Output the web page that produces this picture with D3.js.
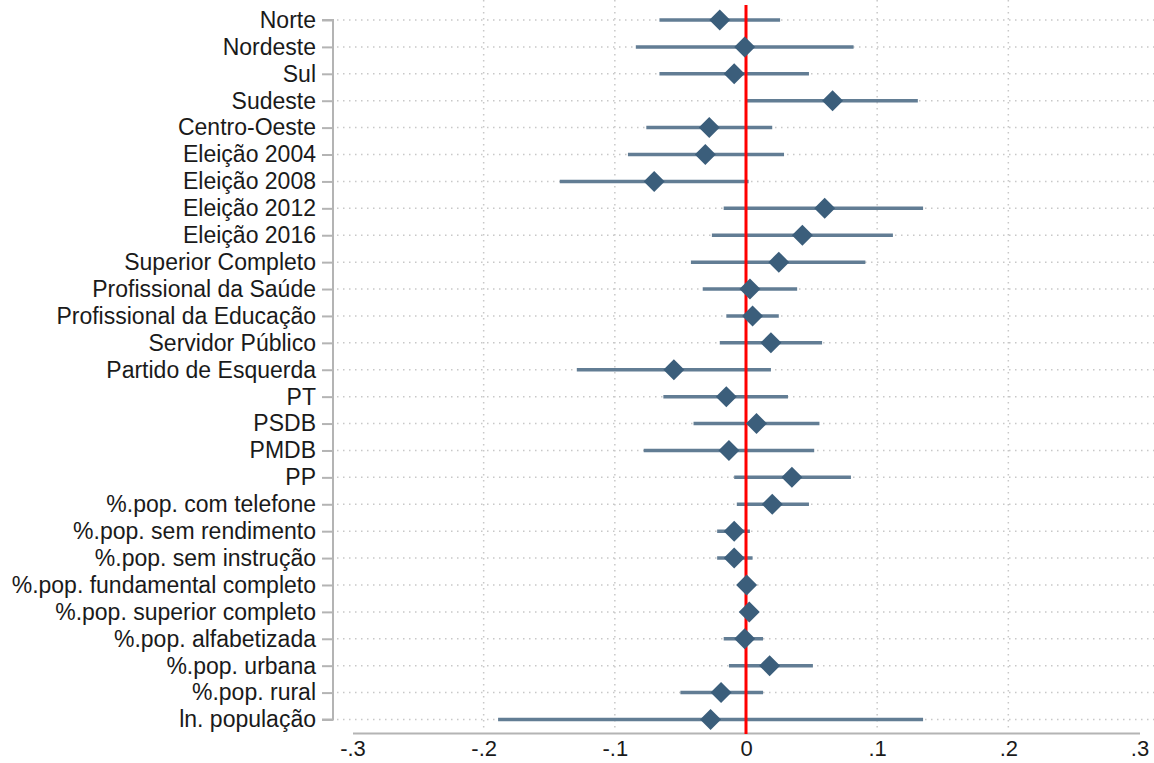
<!DOCTYPE html>
<html>
<head>
  <meta charset="utf-8">
  <title>Coeficientes</title>
  <script src="https://d3js.org/d3.v7.min.js"></script>
  <style>
    body { margin: 0; background: #fff; font-family: "Liberation Sans", Arial, sans-serif; }
    #chart { width: 1154px; height: 763px; }
  </style>
</head>
<body>
  <div id="chart"></div>
  <script>
    // Variables, top to bottom
    const labels = [
      "Norte", "Nordeste", "Sul", "Sudeste", "Centro-Oeste",
      "Eleição 2004", "Eleição 2008", "Eleição 2012", "Eleição 2016",
      "Superior Completo", "Profissional da Saúde", "Profissional da Educação",
      "Servidor Público", "Partido de Esquerda", "PT", "PSDB", "PMDB", "PP",
      "%.pop. com telefone", "%.pop. sem rendimento", "%.pop. sem instrução",
      "%.pop. fundamental completo", "%.pop. superior completo",
      "%.pop. alfabetizada", "%.pop. urbana", "%.pop. rural", "ln. população"
    ];

    // Point estimates
    const coef = [
      -0.020, -0.001, -0.009, 0.066, -0.028,
      -0.031, -0.070, 0.060, 0.043,
      0.025, 0.003, 0.005,
      0.019, -0.055, -0.015, 0.008, -0.013, 0.035,
      0.020, -0.009, -0.009,
      0.0005, 0.0025,
      -0.001, 0.018, -0.019, -0.027
    ];

    // Confidence interval bounds
    const ciLow = [
      -0.066, -0.084, -0.066, 0.0005, -0.076,
      -0.090, -0.142, -0.017, -0.026,
      -0.042, -0.033, -0.015,
      -0.020, -0.129, -0.063, -0.040, -0.078, -0.009,
      -0.007, -0.022, -0.022,
      -0.003, -0.001,
      -0.017, -0.013, -0.050, -0.189
    ];
    const ciHigh = [
      0.026, 0.082, 0.048, 0.131, 0.020,
      0.029, 0.002, 0.135, 0.112,
      0.091, 0.039, 0.025,
      0.058, 0.019, 0.032, 0.056, 0.052, 0.080,
      0.048, 0.003, 0.005,
      0.004, 0.006,
      0.013, 0.051, 0.013, 0.135
    ];

    const xTicks = [-0.3, -0.2, -0.1, 0, 0.1, 0.2, 0.3];
    const xTickLabels = ["-.3", "-.2", "-.1", "0", ".1", ".2", ".3"];
    const gridTicks = [-0.2, -0.1, 0.1, 0.2];

    const data = labels.map((d, i) => ({ label: d, b: coef[i], lo: ciLow[i], hi: ciHigh[i] }));

    const width = 1154;
    const height = 763;
    const font = "'Liberation Sans', Arial, sans-serif";

    const x = d3.scaleLinear().domain([-0.3, 0.3]).range([352.5, 1139.5]);
    const y = d3.scalePoint().domain(labels).range([20, 719.5]);

    const svg = d3.select("#chart")
      .append("svg")
      .attr("width", width)
      .attr("height", height);

    // Dotted grid
    svg.append("g")
      .selectAll("line")
      .data(labels)
      .enter().append("line")
      .attr("x1", 337)
      .attr("x2", width)
      .attr("y1", d => y(d))
      .attr("y2", d => y(d))
      .attr("stroke", "#c8c8c8")
      .attr("stroke-width", 1.5)
      .attr("stroke-dasharray", "1.5,4.5");

    svg.append("g")
      .selectAll("line")
      .data(gridTicks)
      .enter().append("line")
      .attr("x1", d => x(d))
      .attr("x2", d => x(d))
      .attr("y1", 0)
      .attr("y2", 730)
      .attr("stroke", "#c8c8c8")
      .attr("stroke-width", 1.5)
      .attr("stroke-dasharray", "1.5,4.5");

    // Y axis (labels on the left)
    const yAxis = svg.append("g")
      .attr("transform", "translate(333,0)")
      .call(d3.axisLeft(y).tickSize(11).tickPadding(6));
    yAxis.select(".domain")
      .attr("d", `M-11,${y.range()[0]}H0V${y.range()[1]}H-11`)
      .attr("stroke", "#b4b4b4")
      .attr("stroke-width", 2)
      .attr("fill", "none");
    yAxis.selectAll(".tick line").attr("stroke", "#b4b4b4").attr("stroke-width", 2);
    yAxis.selectAll(".tick text")
      .attr("fill", "#1a1a1a")
      .style("font-size", "23px")
      .style("font-family", font);

    // X axis
    const xAxis = svg.append("g")
      .attr("transform", "translate(0,733)")
      .call(d3.axisBottom(x).tickValues(xTicks).tickSize(0).tickPadding(7)
        .tickFormat((d, i) => xTickLabels[i]));
    xAxis.select(".domain").attr("stroke", "#b4b4b4").attr("stroke-width", 2);
    xAxis.selectAll(".tick text")
      .attr("fill", "#1a1a1a")
      .style("font-size", "22px")
      .style("font-family", font);

    // Confidence intervals
    svg.append("g")
      .selectAll("line")
      .data(data)
      .enter().append("line")
      .attr("x1", d => x(d.lo))
      .attr("x2", d => x(d.hi))
      .attr("y1", d => y(d.label))
      .attr("y2", d => y(d.label))
      .attr("stroke", "#627d94")
      .attr("stroke-width", 3.5);

    // Zero reference line
    svg.append("line")
      .attr("x1", x(0))
      .attr("x2", x(0))
      .attr("y1", 5)
      .attr("y2", 734)
      .attr("stroke", "#ff0000")
      .attr("stroke-width", 3);

    // Diamonds for the estimates
    svg.append("g")
      .selectAll("path")
      .data(data)
      .enter().append("path")
      .attr("d", "M0,-10.5L10.5,0L0,10.5L-10.5,0Z")
      .attr("transform", d => `translate(${x(d.b)},${y(d.label)})`)
      .attr("fill", "#3b5e7b");
  </script>
</body>
</html>
